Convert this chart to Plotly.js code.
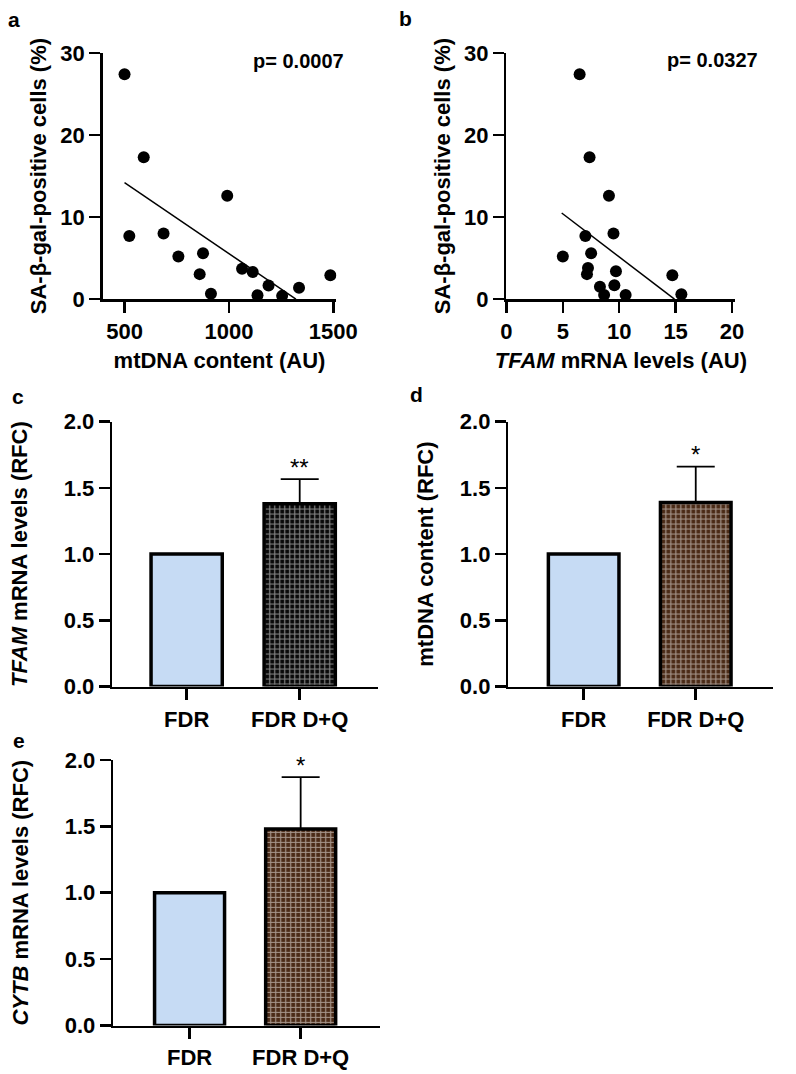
<!DOCTYPE html>
<html>
<head>
<meta charset="utf-8">
<script src="https://cdn.plot.ly/plotly-3.0.1.min.js"></script>
<style>html,body{margin:0;padding:0;background:#fff;}#chart{width:796px;height:1074px;}</style>
</head>
<body>
<div id="chart"></div>
<script>
// ---- Data ----
// Panel a: mtDNA content vs SA-β-gal-positive cells
const aX = [500, 592, 523, 687, 758, 876, 860, 914, 992, 1063, 1114, 1190, 1137, 1255, 1336, 1486];
const aY = [27.4, 17.3, 7.7, 8.0, 5.2, 5.6, 3.05, 0.67, 12.6, 3.7, 3.3, 1.66, 0.48, 0.4, 1.4, 2.9];
const aFitX = [500, 1321];
const aFitY = [14.2, 0];
const aP = "p= 0.0007";
// Panel b: TFAM mRNA levels vs SA-β-gal-positive cells
const bX = [6.49, 7.37, 9.09, 9.49, 7.0, 5.0, 7.51, 7.23, 7.14, 9.71, 9.57, 8.29, 8.66, 10.57, 14.71, 15.51];
const bY = [27.4, 17.3, 12.6, 8.0, 7.7, 5.2, 5.6, 3.8, 3.05, 3.4, 1.7, 1.5, 0.5, 0.5, 2.9, 0.6];
const bFitX = [4.9, 14.9];
const bFitY = [10.5, 0];
const bP = "p= 0.0327";
// Bar panels
const groups = ["FDR", "FDR D+Q"];
const cVals = [1.0, 1.38];
const cErr = [0, 0.185];
const cSig = ["", "**"];
const dVals = [1.0, 1.39];
const dErr = [0, 0.27];
const dSig = ["", "*"];
const eVals = [1.0, 1.48];
const eErr = [0, 0.39];
const eSig = ["", "*"];

// ---- Styling ----
const FONT = "Liberation Sans, Arial, Helvetica, sans-serif";
const W = 796, H = 1074;
const px = v => v / W;
const py = v => 1 - v / H;
const tickFont = {family: FONT, size: 22, color: "#000", weight: "bold"};
const titleFont = {family: FONT, size: 22, color: "#000", weight: "bold"};

function baseAxis(extra) {
  return Object.assign({
    showline: true, linecolor: "#000", linewidth: 2.5,
    ticks: "outside", ticklen: 11, tickwidth: 2.5, tickcolor: "#000",
    showgrid: false, zeroline: false, tickfont: tickFont,
    fixedrange: true, automargin: true
  }, extra);
}

const lightBlue = "#c6dbf4";
function barTrace(vals, err, xa, ya, bg) {
  return {
    type: "bar", x: groups, y: vals, xaxis: xa, yaxis: ya, width: 0.63,
    marker: {
      color: [lightBlue, bg],
      line: {color: "#000", width: 3.5},
      pattern: {shape: ["", "+"], fgcolor: "#b4cfee", size: 5, solidity: 0.42, fillmode: "overlay"}
    },
    error_y: {type: "data", symmetric: false, array: err, arrayminus: [0, 0], color: "#000", thickness: 1.8, width: 19, visible: true},
    hoverinfo: "skip", showlegend: false
  };
}

const data = [
  {type: "scatter", mode: "markers", x: aX, y: aY, xaxis: "x", yaxis: "y",
   marker: {color: "#000", size: 12}, hoverinfo: "skip", showlegend: false},
  {type: "scatter", mode: "lines", x: aFitX, y: aFitY, xaxis: "x", yaxis: "y",
   line: {color: "#000", width: 1.5}, hoverinfo: "skip", showlegend: false},
  {type: "scatter", mode: "markers", x: bX, y: bY, xaxis: "x2", yaxis: "y2",
   marker: {color: "#000", size: 12}, hoverinfo: "skip", showlegend: false},
  {type: "scatter", mode: "lines", x: bFitX, y: bFitY, xaxis: "x2", yaxis: "y2",
   line: {color: "#000", width: 1.5}, hoverinfo: "skip", showlegend: false},
  barTrace(cVals, cErr, "x3", "y3", "#080808"),
  barTrace(dVals, dErr, "x4", "y4", "#4a2a16"),
  barTrace(eVals, eErr, "x5", "y5", "#4a2a16")
];

function starAnn(vals, err, sig, xa, ya) {
  return sig.map((s, i) => ({
    text: s, x: groups[i], y: vals[i] + err[i], xref: xa, yref: ya,
    xanchor: "center", yanchor: "middle", yshift: 12, showarrow: false,
    font: {family: FONT, size: 24, color: "#000"}
  })).filter(a => a.text);
}

function letter(t, x, y) {
  return {text: t, x: px(x), y: py(y), xref: "paper", yref: "paper", xanchor: "center", yanchor: "middle",
          showarrow: false, font: {family: FONT, size: 21, color: "#000", weight: "bold"}};
}

const annotations = [
  letter("a", 8, 8), letter("b", 414, 7), letter("c", 12, 394), letter("d", 425, 392), letter("e", 13, 746),
  {text: aP, x: px(303), y: py(50), xref: "paper", yref: "paper", xanchor: "center", yanchor: "middle", showarrow: false,
   font: {family: FONT, size: 20, color: "#000", weight: "bold"}},
  {text: bP, x: px(731), y: py(49), xref: "paper", yref: "paper", xanchor: "center", yanchor: "middle", showarrow: false,
   font: {family: FONT, size: 20, color: "#000", weight: "bold"}},
  ...starAnn(cVals, cErr, cSig, "x3", "y3"),
  ...starAnn(dVals, dErr, dSig, "x4", "y4"),
  ...starAnn(eVals, eErr, eSig, "x5", "y5")
];

const yScatterTitle = "SA-β-gal-positive cells (%)";

const layout = {
  width: W, height: H,
  margin: {l: 0, r: 0, t: 0, b: 0},
  paper_bgcolor: "#fff", plot_bgcolor: "rgba(0,0,0,0)",
  showlegend: false,
  annotations: annotations,
  xaxis: baseAxis({domain: [px(100), px(342)], range: [395, 1515], tickvals: [500, 1000, 1500], anchor: "y",
    title: {text: "mtDNA content (AU)", font: titleFont, standoff: 10}}),
  yaxis: baseAxis({domain: [py(294), py(42)], range: [0, 30], tickvals: [0, 10, 20, 30], anchor: "x",
    title: {text: yScatterTitle, font: titleFont, standoff: 8}}),
  xaxis2: baseAxis({domain: [px(518), px(755)], range: [0, 20.3], tickvals: [0, 5, 10, 15, 20], anchor: "y2",
    title: {text: "<i>TFAM</i> mRNA levels (AU)", font: titleFont, standoff: 10}}),
  yaxis2: baseAxis({domain: [py(294), py(42)], range: [0, 30], tickvals: [0, 10, 20, 30], anchor: "x2",
    title: {text: yScatterTitle, font: titleFont, standoff: 8}}),
  xaxis3: baseAxis({domain: [px(110), px(385)], range: [-0.658, 1.692], type: "category", anchor: "y3"}),
  yaxis3: baseAxis({domain: [py(690.7), py(419.3)], range: [0, 2], dtick: 0.5, tickformat: ".1f", anchor: "x3",
    title: {text: "<i>TFAM</i> mRNA levels (RFC)", font: titleFont, standoff: 30}}),
  xaxis4: baseAxis({domain: [px(520), px(794)], range: [-0.672, 1.69], type: "category", anchor: "y4"}),
  yaxis4: baseAxis({domain: [py(690.7), py(419.3)], range: [0, 2], dtick: 0.5, tickformat: ".1f", anchor: "x4",
    title: {text: "mtDNA content (RFC)", font: titleFont, standoff: 20}}),
  xaxis5: baseAxis({domain: [px(111), px(387)], range: [-0.687, 1.713], type: "category", anchor: "y5"}),
  yaxis5: baseAxis({domain: [py(1037.7), py(765.7)], range: [0, 2], dtick: 0.5, tickformat: ".1f", anchor: "x5",
    title: {text: "<i>CYTB</i> mRNA levels (RFC)", font: titleFont, standoff: 30}})
};

Plotly.newPlot("chart", data, layout, {staticPlot: true, displayModeBar: false});
</script>
</body>
</html>
